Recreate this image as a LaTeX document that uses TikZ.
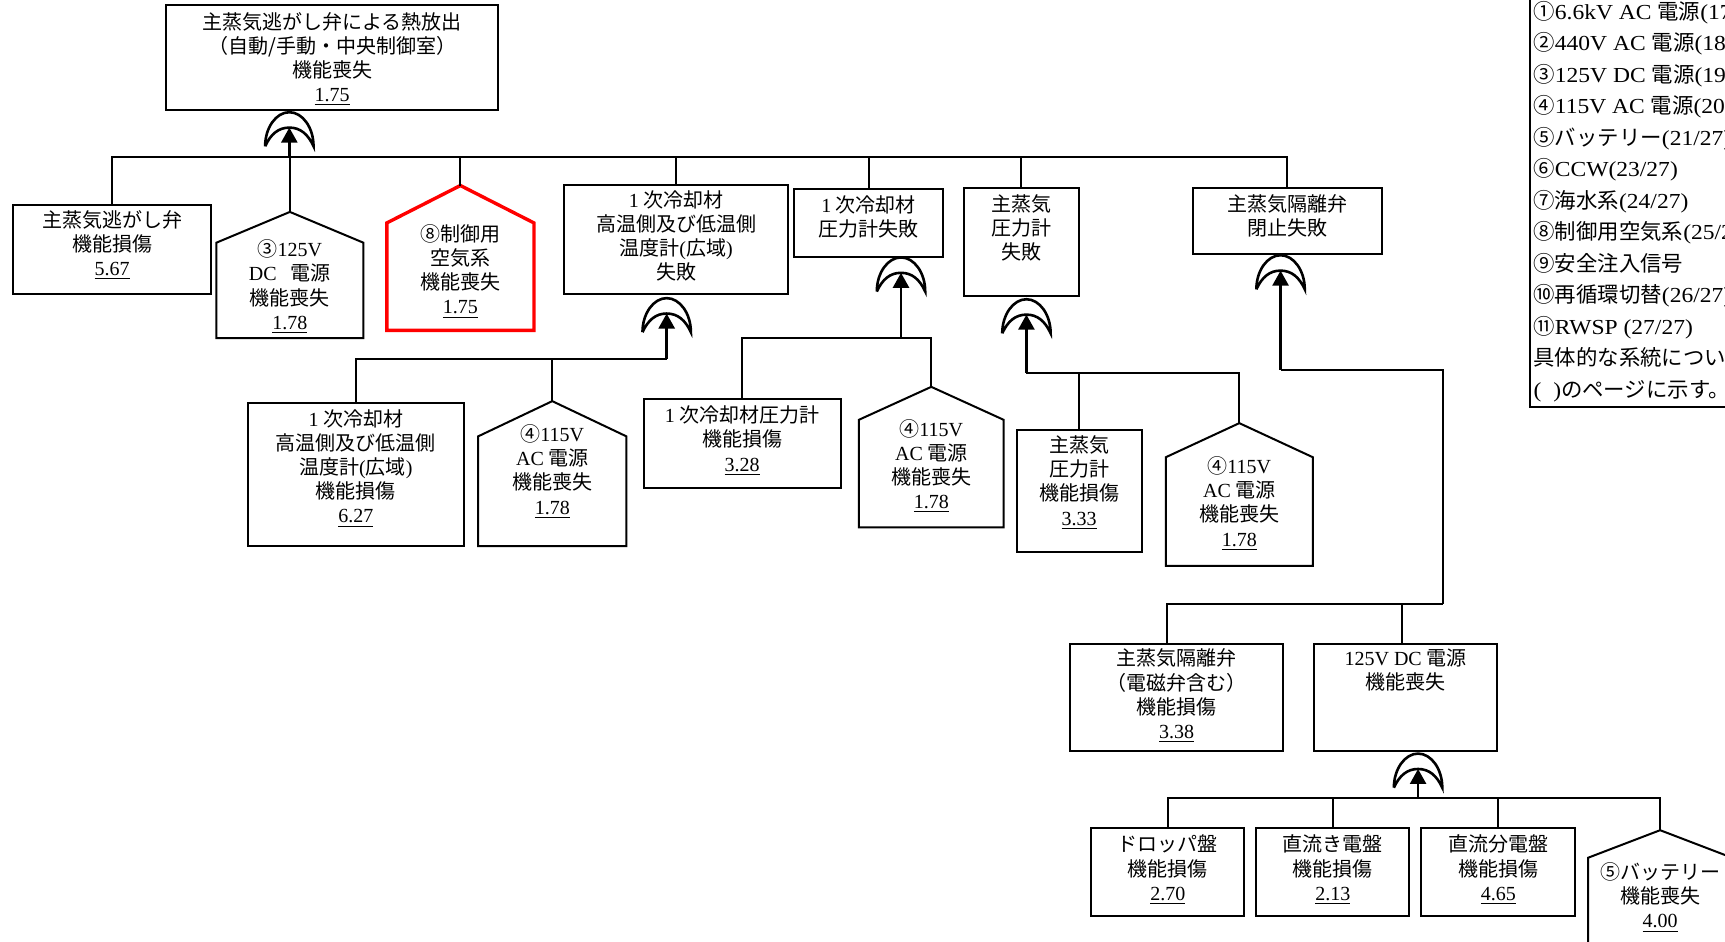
\documentclass[tikz,border=0pt]{standalone}
\usepackage{fontspec}
\setmainfont{Noto Sans CJK JP}
\newfontfamily\lat{Liberation Serif}
\newfontfamily\latw{Liberation Serif}[FakeStretch=1.1]
\usepackage{tikz}
\usetikzlibrary{arrows.meta}
\newlength{\px}
\setlength{\px}{0.55pt}
\newcommand{\cell}[4][14]{\parbox[c][#3\px][t]{#2\px}{\fontsize{10}{12.1}\selectfont\centering\vspace*{\dimexpr#1\px-8\px\relax}#4\par}}
\newcommand{\val}[1]{\underline{\lat #1}}

\begin{document}
\begin{tikzpicture}[
  x=0.55pt, y=-0.55pt,
  evbox/.style={draw, line width=1pt, inner sep=0pt},
  housebox/.style={inner sep=0pt},
  link/.style={line width=1pt},
  arr/.style={line width=1.3pt, -{Triangle[length=7.5pt,width=8pt]}},
  gateline/.style={line width=1.3pt},
  legendbox/.style={draw, line width=1pt, align=left, inner xsep=3\px, inner ysep=5\px, font=\fontsize{10.7}{15.73}\selectfont},
  orgate/.pic={
    \draw[gateline] (-22,31) .. controls (-22,14) and (-12,0) .. (0,0) .. controls (12,0) and (22,14) .. (22,31)
      .. controls (17,20) and (10,14) .. (0,14) .. controls (-10,14) and (-17,20) .. (-22,31);
    \coordinate (-tip) at (0,14);
  }
]
\useasboundingbox (0,0) rectangle (1568,856);
\clip (0,0) rectangle (1568,856);

\node[evbox] (TOP) at (302,52.5) {\cell{302}{95}{主蒸気逃がし弁による熱放出\\（自動/手動・中央制御室）\\機能喪失\\\val{1.75}}};

\node[evbox] (MSRV) at (102,226.5) {\cell[13]{180}{81}{主蒸気逃がし弁\\機能損傷\\\val{5.67}}};
\node[housebox] (DC3) at (263.5,250) {\cell[33]{133}{114}{③{\lat 125V}\\{\lat DC}\hspace{7pt}電源\\機能喪失\\\val{1.78}}};
\node[housebox] (IA8) at (418.5,234.5) {\cell[43]{133}{131}{⑧制御用\\空気系\\機能喪失\\\val{1.75}}};
\node[evbox] (RCT) at (614.5,217.5) {\cell[13]{203}{99}{{\lat 1} 次冷却材\\高温側及び低温側\\温度計{\lat (}広域{\lat )}\\失敗}};
\node[evbox] (RCP) at (789.5,203) {\cell{135}{62}{{\lat 1} 次冷却材\\圧力計失敗}};
\node[evbox] (MSP) at (928.5,220) {\cell{105}{98}{主蒸気\\圧力計\\失敗}};
\node[evbox] (MSIV) at (1170,201) {\cell{172}{60}{主蒸気隔離弁\\閉止失敗}};

\node[evbox] (RCTD) at (323.5,431) {\cell{197}{130}{{\lat 1} 次冷却材\\高温側及び低温側\\温度計{\lat (}広域{\lat )}\\機能損傷\\\val{6.27}}};
\node[housebox] (AC4a) at (502,430.5) {\cell[29]{134}{131}{④{\lat 115V}\\{\lat AC} 電源\\機能喪失\\\val{1.78}}};
\node[evbox] (RCPD) at (674.5,403.5) {\cell{179}{81}{{\lat 1} 次冷却材圧力計\\機能損傷\\\val{3.28}}};
\node[housebox] (AC4b) at (846.5,415.5) {\cell[37]{131}{127}{④{\lat 115V}\\{\lat AC} 電源\\機能喪失\\\val{1.78}}};
\node[evbox] (MSPD) at (981,446.5) {\cell[13]{114}{111}{主蒸気\\圧力計\\機能損傷\\\val{3.33}}};
\node[housebox] (AC4c) at (1126.5,449.5) {\cell[38]{133}{129}{④{\lat 115V}\\{\lat AC} 電源\\機能喪失\\\val{1.78}}};

\node[evbox] (MSIVD) at (1069.5,634) {\cell[13]{193}{98}{主蒸気隔離弁\\（電磁弁含む）\\機能損傷\\\val{3.38}}};
\node[evbox] (DC125) at (1277.5,634) {\cell[13]{167}{98}{{\lat 125V DC} 電源\\機能喪失}};

\node[evbox] (DROP) at (1061.5,793) {\cell{139}{80}{ドロッパ盤\\機能損傷\\\val{2.70}}};
\node[evbox] (FEED) at (1211.5,793) {\cell{139}{80}{直流き電盤\\機能損傷\\\val{2.13}}};
\node[evbox] (DIST) at (1362,793) {\cell{140}{80}{直流分電盤\\機能損傷\\\val{4.65}}};
\node[housebox] (BAT) at (1509,817.5) {\cell[37]{130}{125}{⑤バッテリー\\機能喪失\\\val{4.00}}};

\foreach \n/\rs in {DC3/28,AC4a/32,AC4b/30,AC4c/31,BAT/25}
  \draw[link] (\n.south west) -- ([yshift=-\rs\px]\n.north west) -- (\n.north) -- ([yshift=-\rs\px]\n.north east) -- (\n.south east) -- cycle;
\draw[line width=1.7pt, red] (IA8.south west) -- ([yshift=-34\px]IA8.north west) -- (IA8.north) -- ([yshift=-34\px]IA8.north east) -- (IA8.south east) -- cycle;

\pic (G0) at (263,102) {orgate};
\pic (G1) at (606,271) {orgate};
\pic (G2) at (819,234) {orgate};
\pic (G3) at (933,272) {orgate};
\pic (G4) at (1164,232) {orgate};
\pic (G5) at (1289,685) {orgate};

\coordinate (G0-bus) at (263,143);
\coordinate (G1-bus) at (606,326);
\coordinate (G2-bus) at (819,307);
\coordinate (G3-bus) at (933,339);
\coordinate (G4-join) at (1312,549);
\coordinate (G4-bus) at (1164,336);
\coordinate (G5-bus) at (1289,725);

\foreach \n in {MSRV,DC3,IA8,RCT,RCP,MSP,MSIV} \draw[link] (\n.north) |- (G0-bus);
\foreach \n in {RCTD,AC4a} \draw[link] (\n.north) |- (G1-bus);
\foreach \n in {RCPD,AC4b} \draw[link] (\n.north) |- (G2-bus);
\foreach \n in {MSPD,AC4c} \draw[link] (\n.north) |- (G3-bus);
\draw[link] ([xshift=-8.5\px]MSIVD.north) |- (G4-join);
\draw[link] ([xshift=-3.5\px]DC125.north) |- (G4-join);
\draw[link] (G4-join) |- (G4-bus);
\foreach \n in {DROP,FEED,DIST,BAT} \draw[link] (\n.north) |- (G5-bus);
\foreach \g in {G0,G1,G2,G3,G4,G5} \draw[arr] (\g-bus) -- (\g-tip);

\node[legendbox, anchor=south west] (LEG) at (1390,371) {\rule{0pt}{40pt}①{\latw 6.6kV AC }電源{\latw (17/27)}\\
②{\latw 440V AC }電源{\latw (18/27)}\\
③{\latw 125V DC }電源{\latw (19/27)}\\
④{\latw 115V AC }電源{\latw (20/27)}\\
⑤バッテリー{\latw (21/27)}\\
⑥{\latw CCW(23/27)}\\
⑦海水系{\latw (24/27)}\\
⑧制御用空気系{\latw (25/27)}\\
⑨安全注入信号\\
⑩再循環切替{\latw (26/27)}\\
⑪{\latw RWSP (27/27)}\\
具体的な系統については\\
{\latw (}\hspace{6pt}{\latw )}のページに示す。};
\end{tikzpicture}
\end{document}
